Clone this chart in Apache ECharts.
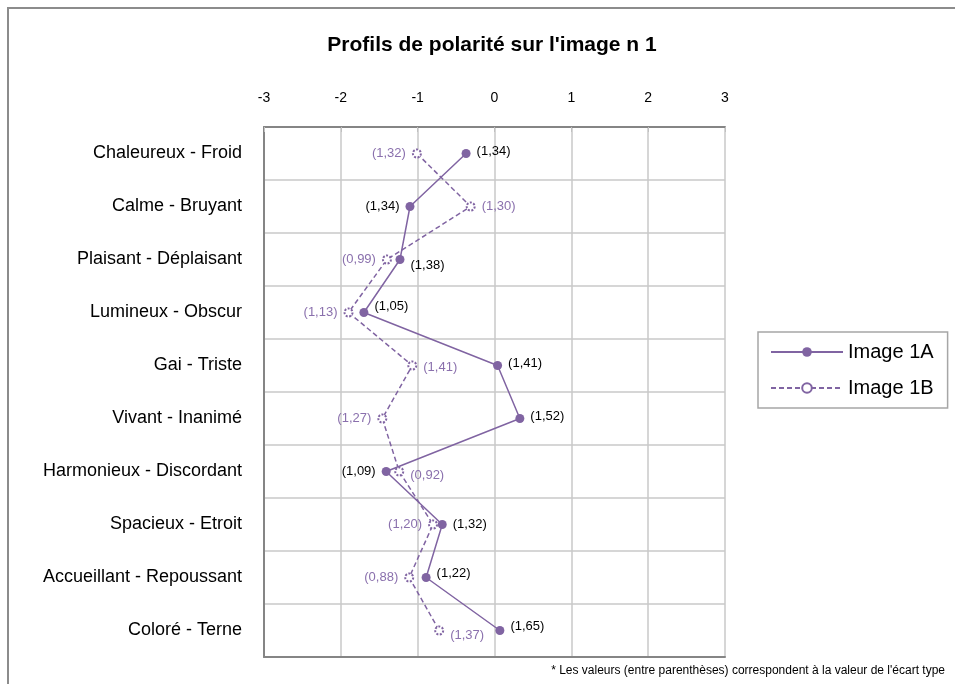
<!DOCTYPE html>
<html>
<head>
<meta charset="utf-8">
<script src="https://cdn.jsdelivr.net/npm/echarts@6/dist/echarts.min.js"></script>
<style>
  html, body { margin: 0; padding: 0; background: #fff; }
  #chart { width: 955px; height: 684px; }
</style>
</head>
<body>
<div id="chart"></div>
<script>
const categories = [
  'Chaleureux - Froid', 'Calme - Bruyant', 'Plaisant - Déplaisant', 'Lumineux - Obscur',
  'Gai - Triste', 'Vivant - Inanimé', 'Harmonieux - Discordant', 'Spacieux - Etroit',
  'Accueillant - Repoussant', 'Coloré - Terne'
]
const image1A = [-0.37, -1.10, -1.23, -1.70, 0.04, 0.33, -1.41, -0.68, -0.89, 0.07]
const image1B = [-1.01, -0.31, -1.40, -1.90, -1.07, -1.46, -1.24, -0.80, -1.11, -0.72]
const ecartA = ['1,34', '1,34', '1,38', '1,05', '1,41', '1,52', '1,09', '1,32', '1,22', '1,65']
const ecartB = ['1,32', '1,30', '0,99', '1,13', '1,41', '1,27', '0,92', '1,20', '0,88', '1,37']
const xTicks = [-3, -2, -1, 0, 1, 2, 3]

// label placement (which side of the point)
const sideA = ['right', 'left', 'right', 'right', 'right', 'right', 'left', 'right', 'right', 'right']
const sideB = ['left', 'right', 'left', 'left', 'right', 'left', 'right', 'left', 'left', 'right']
const offsetA = [[0, -2], [0, 0], [0, 6], [0, -6], [0, -2], [0, -2], [0, 0], [0, 0], [0, -4], [0, -4]]
const offsetB = [[0, 0], [0, 0], [0, 0], [0, 0], [0, 2], [0, 0], [0, 4], [0, 0], [0, 0], [0, 5]]

const purple = '#8064a2'
const font = 'Liberation Sans, Arial, sans-serif'

const buildData = (vals, ecarts, sides, offsets, color) =>
  vals.map((v, i) => ({
    value: [v, categories[i]],
    label: {
      show: true,
      position: sides[i],
      offset: offsets[i],
      distance: 6,
      formatter: '(' + ecarts[i] + ')',
      color: color,
      fontSize: 13,
      fontFamily: font
    }
  }))

const chart = echarts.init(document.getElementById('chart'))
const options = {
  animation: false,
  backgroundColor: '#fff',
  title: {
    text: "Profils de polarité sur l'image n 1",
    left: 487,
    top: 30,
    textAlign: 'center',
    textStyle: { fontSize: 21, fontWeight: 'bold', color: '#000', fontFamily: font }
  },
  legend: {
    orient: 'vertical',
    left: 758,
    top: 332,
    padding: [10, 14, 10, 12],
    itemWidth: 72,
    itemHeight: 12,
    itemGap: 16,
    borderColor: '#a6a6a6',
    borderWidth: 1.5,
    textStyle: { fontSize: 20, color: '#000', fontFamily: font },
    data: ['Image 1A', 'Image 1B']
  },
  grid: { left: 264, right: 230, top: 127, bottom: 27 },
  xAxis: [
    {
      type: 'value',
      position: 'top',
      min: xTicks[0],
      max: xTicks[xTicks.length - 1],
      interval: 1,
      axisLine: { show: true, lineStyle: { color: '#858585', width: 2 } },
      axisTick: { show: true, inside: true, length: 5, lineStyle: { color: '#c0c0c0' } },
      splitLine: { show: true, lineStyle: { color: '#c8c8c8', width: 1.5 } },
      axisLabel: { fontSize: 14, color: '#000', margin: 22, fontFamily: font }
    },
    {
      type: 'value',
      position: 'bottom',
      min: xTicks[0],
      max: xTicks[xTicks.length - 1],
      interval: 1,
      axisLine: { show: true, lineStyle: { color: '#858585', width: 2 } },
      axisTick: { show: false },
      splitLine: { show: false },
      axisLabel: { show: false }
    }
  ],
  yAxis: {
    type: 'category',
    inverse: true,
    data: categories,
    axisLine: { show: true, onZero: false, lineStyle: { color: '#858585', width: 2 } },
    axisTick: { show: false },
    splitLine: { show: true, lineStyle: { color: '#c8c8c8', width: 1.5 } },
    axisLabel: { fontSize: 18, color: '#000', margin: 22, fontFamily: font }
  },
  series: [
    {
      name: 'Image 1A',
      type: 'line',
      xAxisIndex: 0,
      symbol: 'circle',
      symbolSize: 9,
      color: purple,
      lineStyle: { color: purple, width: 1.5 },
      itemStyle: { color: purple },
      data: buildData(image1A, ecartA, sideA, offsetA, '#000')
    },
    {
      name: 'Image 1B',
      type: 'line',
      xAxisIndex: 0,
      symbol: 'emptyCircle',
      symbolSize: 8,
      color: purple,
      lineStyle: { color: purple, width: 1.5, type: [5, 3] },
      itemStyle: { color: purple, borderColor: purple, borderWidth: 1.5, borderType: [2, 1.5] },
      data: buildData(image1B, ecartB, sideB, offsetB, '#8a70ad')
    }
  ],
  graphic: [
    {
      type: 'rect',
      shape: { x: 8, y: 8, width: 1000, height: 700 },
      style: { fill: 'none', stroke: '#8c8c8c', lineWidth: 2 },
      silent: true
    },
    {
      type: 'text',
      right: 10,
      top: 665,
      style: {
        text: "* Les valeurs (entre parenthèses) correspondent à la valeur de l'écart type",
        fontSize: 12,
        fill: '#000',
        fontFamily: font
      }
    }
  ]
}
chart.setOption(options)
window.addEventListener('resize', function () {
  chart.resize()
})
</script>
</body>
</html>
